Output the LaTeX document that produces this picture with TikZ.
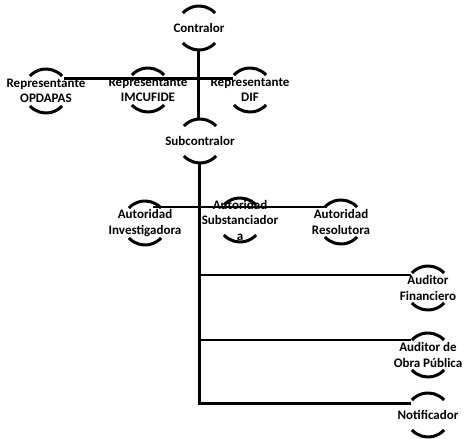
\documentclass[tikz,border=0pt]{standalone}
\usepackage{fontspec}
\setmainfont{Carlito}
\tikzset{
  lbl/.style={font=\bfseries\fontsize{13}{15.5}\selectfont, align=center, inner sep=0pt},
  arcln/.style={line width=3pt},
  conn/.style={line width=3pt},
  hconn/.style={line width=2.4pt}
}
\newcommand\orgbox[4]{%
  \node[lbl] (#1) at (#2,-#3) {#4};
  \draw[arcln] (#1.center) ++(43:22) arc (43:137:22);
  \draw[arcln] (#1.center) ++(-137:22) arc (-137:-43:22);
}
\begin{document}
\begin{tikzpicture}[x=1pt,y=1pt]
  \fill[white] (0,0) rectangle (464,-439);
  \useasboundingbox (0,0) rectangle (464,-439);

  \orgbox{ctr}{199}{28}{Contralor}
  \orgbox{opd}{46}{91}{Representante\\OPDAPAS}
  \orgbox{imc}{148}{90}{Representante\\IMCUFIDE}
  \orgbox{dif}{250}{90}{Representante\\DIF}
  \orgbox{sub}{200}{141}{Subcontralor}
  \orgbox{inv}{145}{223}{Autoridad\\Investigadora}
  \orgbox{sus}{240}{220}{Autoridad\\Substanciador\\a}
  \orgbox{res}{341}{222}{Autoridad\\Resolutora}
  \orgbox{afi}{428}{288}{Auditor\\Financiero}
  \orgbox{aop}{428}{355}{Auditor de\\Obra Pública}
  \orgbox{not}{428}{415}{Notificador}

  % junction coordinates
  \coordinate (ctr-b) at (198,-50);
  \coordinate (sub-t) at (198,-119);
  \coordinate (opd-r) at (64,-78);
  \coordinate (dif-l) at (233,-78);
  \coordinate (sub-b) at (199,-162);
  \coordinate (inv-r) at (153,-207);
  \coordinate (res-l) at (327,-207);
  \coordinate (afi-l) at (411,-275);
  \coordinate (aop-l) at (411,-340);
  \coordinate (not-l) at (411,-403);

  \draw[conn] (ctr-b) -- (sub-t);
  \draw[conn] (opd-r) -- (dif-l);
  \draw[conn] (sub-b) |- (not-l);
  \draw[hconn] (inv-r) -- (res-l);
  \draw[hconn] (sub-b |- afi-l) -- (afi-l);
  \draw[hconn] (sub-b |- aop-l) -- (aop-l);
\end{tikzpicture}
\end{document}
